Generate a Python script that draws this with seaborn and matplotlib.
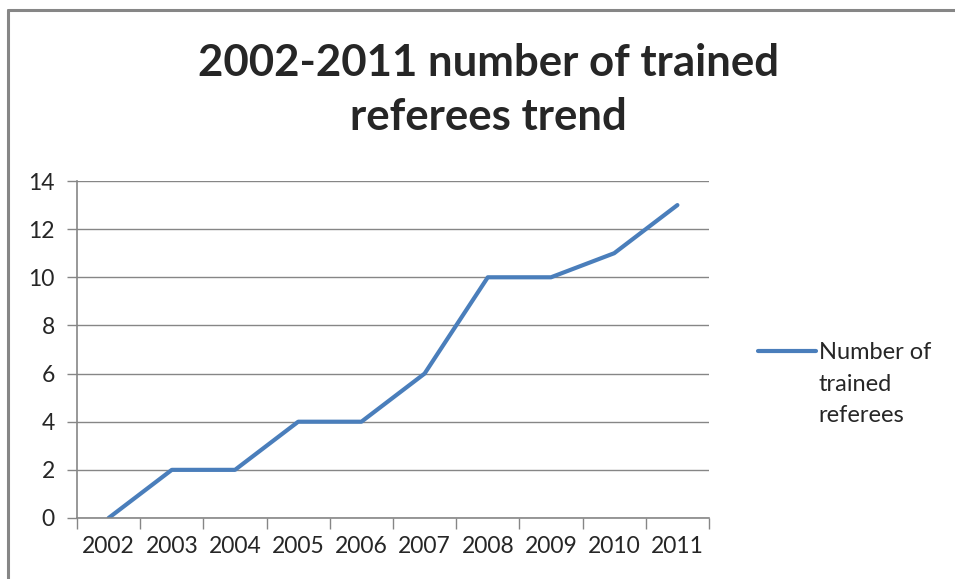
import numpy as np
import matplotlib
matplotlib.use("Agg")
import matplotlib.pyplot as plt
import seaborn as sns
from matplotlib.lines import Line2D

years = ["2002", "2003", "2004", "2005", "2006", "2007", "2008", "2009", "2010", "2011"]
referees = [0, 2, 2, 4, 4, 6, 10, 10, 11, 13]
series_name = "Number of\ntrained\nreferees"
title = "2002-2011 number of trained\nreferees trend"

sns.set_style("white")
plt.rcParams["font.family"] = ["Lato", "DejaVu Sans"]

grey = "#868686"
blue = "#4A7EBB"

fig = plt.figure(figsize=(9.55, 5.79), dpi=100)
ax = fig.add_axes([77 / 955, 61 / 579, 632 / 955, 337 / 579])

sns.lineplot(x=np.arange(len(years)), y=referees, ax=ax, color=blue,
             linewidth=3, label=series_name)

# axes look (Excel style)
ax.set_xlim(-0.5, len(years) - 0.5)
ax.set_ylim(0, 14)
ax.set_yticks(range(0, 15, 2))
ax.set_xticks(np.arange(-0.5, len(years)), labels=[""] * (len(years) + 1))
ax.set_xticks(np.arange(len(years)), labels=years, minor=True)
ax.tick_params(axis="x", which="major", length=8, width=1, color=grey, direction="out", bottom=True)
ax.tick_params(axis="x", which="minor", length=0, labelsize=16.5, pad=13)
ax.tick_params(axis="y", length=7, width=1, color=grey, direction="out", left=True,
               labelsize=16.5, pad=9)
ax.grid(axis="y", color=grey, linewidth=1)
ax.grid(axis="x", visible=False)
for s in ["top", "right"]:
    ax.spines[s].set_visible(False)
for s in ["left", "bottom"]:
    ax.spines[s].set_color(grey)
    ax.spines[s].set_linewidth(1.2)

fig.text(488 / 955, 1 - 90 / 579, title, ha="center", va="center",
         fontsize=31.5, fontweight="bold", linespacing=1.45)

leg = ax.legend(loc="center left", bbox_to_anchor=(749 / 955, 1 - 384 / 579),
                bbox_transform=fig.transFigure, frameon=False,
                prop={"size": 17}, handlelength=2.45, handletextpad=0.1, borderaxespad=0)
for t in leg.get_texts():
    t.set_linespacing(1.6)
for ln in leg.get_lines():
    ln.set_ydata(np.asarray(ln.get_ydata()) + 24)

# outer chart border (top and left)
fig.add_artist(Line2D([7.5 / 955, 1], [1 - 9.5 / 579, 1 - 9.5 / 579], color=grey, linewidth=2.2,
                      transform=fig.transFigure))
fig.add_artist(Line2D([7.5 / 955, 7.5 / 955], [0, 1 - 9.5 / 579], color=grey, linewidth=2.2,
                      transform=fig.transFigure))

fig.savefig("out.png", dpi=100)
